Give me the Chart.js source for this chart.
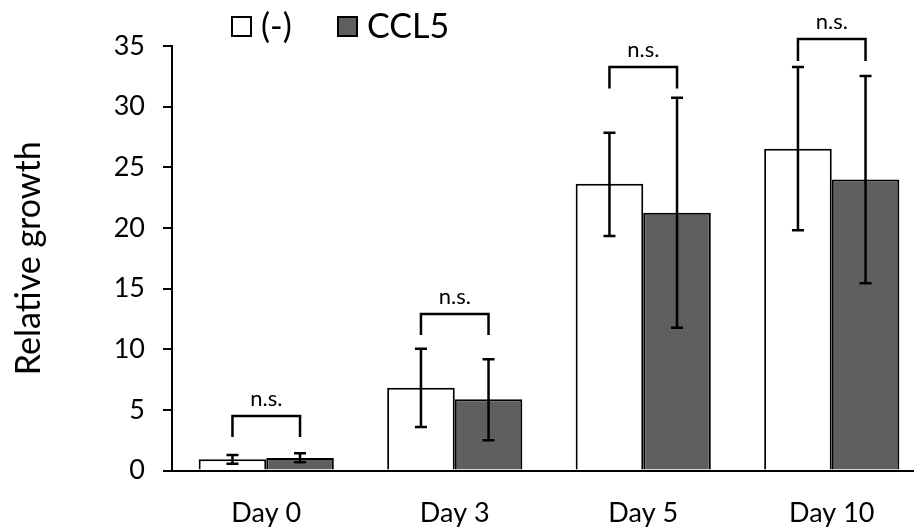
<!DOCTYPE html>
<html><head><meta charset="utf-8">
<script src="https://cdn.jsdelivr.net/npm/chart.js@4.4.0/dist/chart.umd.min.js"></script>
<style>html,body{margin:0;padding:0;overflow:hidden;background:#fff}#wrap{width:930px;height:527px;position:relative}</style>
</head><body><div id="wrap"><canvas id="c" width="930" height="527"></canvas></div>
<script>
const categories = ['Day 0', 'Day 3', 'Day 5', 'Day 10'];
const seriesNames = ['(-)', 'CCL5'];
const controlValues = [0.92, 6.83, 23.64, 26.53];
const controlErrLow = [0.55, 3.59, 19.33, 19.8];
const controlErrHigh = [1.28, 10.04, 27.85, 33.26];
const ccl5Values = [1.03, 5.87, 21.25, 24.0];
const ccl5ErrLow = [0.68, 2.49, 11.77, 15.43];
const ccl5ErrHigh = [1.42, 9.17, 30.73, 32.52];
const sigLabels = ['n.s.', 'n.s.', 'n.s.', 'n.s.'];
const bracketTop = [4.49, 12.9, 33.26, 35.57];
const bracketLegEnd = [2.76, 11.17, 31.5, 33.76];
const yTicks = [0, 5, 10, 15, 20, 25, 30, 35];

const FONT = 'Lato, "Open Sans", sans-serif';
const colors = ['#ffffff', '#5f5f5f'];
const errLow = [controlErrLow, ccl5ErrLow];
const errHigh = [controlErrHigh, ccl5ErrHigh];

const overlay = {
  id: 'overlay',
  afterDatasetsDraw(chart) {
    const ctx = chart.ctx;
    const y = chart.scales.y;
    ctx.save();
    ctx.strokeStyle = '#000';
    ctx.lineWidth = 2.5;
    chart.data.datasets.forEach((ds, di) => {
      const meta = chart.getDatasetMeta(di);
      meta.data.forEach((bar, i) => {
        const x = bar.x;
        const yh = y.getPixelForValue(errHigh[di][i]);
        const yl = y.getPixelForValue(errLow[di][i]);
        ctx.beginPath();
        ctx.moveTo(x, yh); ctx.lineTo(x, yl);
        ctx.moveTo(x - 6, yh); ctx.lineTo(x + 6, yh);
        ctx.moveTo(x - 6, yl); ctx.lineTo(x + 6, yl);
        ctx.stroke();
      });
    });
    const m0 = chart.getDatasetMeta(0), m1 = chart.getDatasetMeta(1);
    ctx.font = '22px ' + FONT;
    ctx.fillStyle = '#000';
    ctx.textAlign = 'center';
    ctx.textBaseline = 'alphabetic';
    categories.forEach((c, i) => {
      const x0 = m0.data[i].x, x1 = m1.data[i].x;
      const yt = y.getPixelForValue(bracketTop[i]);
      const yb = y.getPixelForValue(bracketLegEnd[i]);
      ctx.beginPath();
      ctx.moveTo(x0, yb); ctx.lineTo(x0, yt); ctx.lineTo(x1, yt); ctx.lineTo(x1, yb);
      ctx.stroke();
      ctx.fillText(sigLabels[i], (x0 + x1) / 2, yt - 10);
    });
    ctx.restore();
  },
  afterDraw(chart) {
    const ctx = chart.ctx;
    ctx.save();
    ctx.font = '34px ' + FONT;
    ctx.textBaseline = 'middle';
    ctx.textAlign = 'left';
    const positions = [232, 338];
    chart.data.datasets.forEach((ds, di) => {
      const bx = positions[di];
      ctx.fillStyle = ds.backgroundColor;
      ctx.fillRect(bx, 17, 19, 19);
      ctx.strokeStyle = '#000';
      ctx.lineWidth = 2;
      ctx.strokeRect(bx, 17, 19, 19);
      ctx.fillStyle = '#000';
      ctx.fillText(ds.label, bx + 29, 27);
    });
    ctx.restore();
  }
};

new Chart(document.getElementById('c'), {
  type: 'bar',
  data: {
    labels: categories,
    datasets: [
      { label: seriesNames[0], data: controlValues, backgroundColor: colors[0], borderColor: '#000', borderWidth: 2 },
      { label: seriesNames[1], data: ccl5Values, backgroundColor: colors[1], borderColor: '#000', borderWidth: 2 }
    ]
  },
  options: {
    responsive: false,
    animation: false,
    devicePixelRatio: 1,
    categoryPercentage: 0.717,
    barPercentage: 1,
    layout: { padding: { top: 46, left: 0, right: 4, bottom: 0 } },
    plugins: { legend: { display: false }, tooltip: { enabled: false } },
    scales: {
      x: {
        grid: { display: false },
        border: { display: true, color: '#000', width: 2 },
        ticks: { color: '#000', font: { family: FONT, size: 27 }, padding: 19 },
        afterFit(s) { s.height = 56.5; }
      },
      y: {
        min: 0, max: 35,
        afterBuildTicks(s) { s.ticks = yTicks.map(v => ({ value: v })); },
        grid: { drawOnChartArea: false, drawTicks: true, tickLength: 9, color: '#000', lineWidth: 2 },
        border: { display: true, color: '#000', width: 2 },
        ticks: { color: '#000', font: { family: FONT, size: 27 }, padding: 18 },
        title: { display: true, text: 'Relative growth', color: '#000', font: { family: FONT, size: 34 }, padding: { top: 9 } },
        afterFit(s) { s.width = 172; }
      }
    }
  },
  plugins: [overlay]
});
</script></body></html>
